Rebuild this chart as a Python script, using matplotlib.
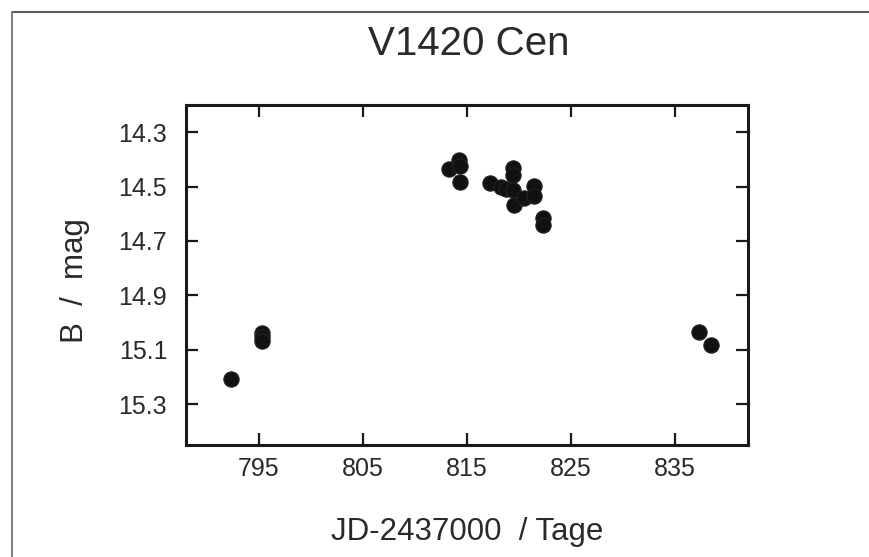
import matplotlib
matplotlib.use("Agg")
import matplotlib.pyplot as plt
from matplotlib.lines import Line2D

# Data
jd = [792.3, 795.26, 795.26, 795.26, 813.25, 814.27, 814.34, 814.34,
      817.21, 818.27, 818.73, 819.38, 819.38, 819.38, 819.54, 820.5,
      821.46, 821.46, 822.32, 822.32, 837.3, 838.4]
bmag = [15.206, 15.037, 15.052, 15.068, 14.434, 14.403, 14.425, 14.484,
        14.486, 14.501, 14.509, 14.431, 14.456, 14.511, 14.567, 14.542,
        14.499, 14.536, 14.616, 14.641, 15.036, 15.081]

xticks = [795, 805, 815, 825, 835]
yticks = [14.3, 14.5, 14.7, 14.9, 15.1, 15.3]
ytick_labels = ["14.3", "14.5", "14.7", "14.9", "15.1", "15.3"]

title = "V1420 Cen"
xlabel = "JD-2437000  / Tage"
ylabel = "B  /  mag"

plt.rcParams['font.family'] = ['Liberation Sans', 'DejaVu Sans']
txt_color = '#2a2a2a'

fig = plt.figure(figsize=(8.7, 5.57), dpi=100)
ax = fig.add_axes([186/870, 1-445/557, (748-186)/870, (445-105)/557])

ax.plot(jd, bmag, 'o', color='#111111', markersize=11, markeredgewidth=0.8,
        markeredgecolor='#222222', linestyle='none')

ax.set_xlim(788, 842)
ax.set_ylim(15.45, 14.2)
ax.set_xticks(xticks)
ax.set_xticklabels([str(t) for t in xticks])
ax.set_yticks(yticks)
ax.set_yticklabels(ytick_labels)

for s in ax.spines.values():
    s.set_linewidth(2.2)
    s.set_color('#1a1a1a')

ax.tick_params(axis='both', direction='in', length=8.5, width=1.6,
               color='#1a1a1a', top=True, right=True,
               labelsize=18, labelcolor=txt_color)
ax.tick_params(axis='x', pad=9)
ax.tick_params(axis='y', pad=13.5)

ax.set_xlabel(xlabel, fontsize=22.5, color=txt_color, va='center')
ax.xaxis.set_label_coords(0.5, -(532-445)/340)
ax.set_ylabel(ylabel, fontsize=22.5, color=txt_color, va='center')
ax.yaxis.set_label_coords(-(186-75)/562, 0.485)

fig.text(469/870, 1-55/557, title, fontsize=29, color=txt_color,
         ha='center', va='baseline')

# thin grey frame lines (top and left) as in the reference
fig.add_artist(Line2D([12/870, 1.0], [1-12/557, 1-12/557],
                      transform=fig.transFigure, color='#5a5a5a', linewidth=1.5))
fig.add_artist(Line2D([12/870, 12/870], [0.0, 1-12/557],
                      transform=fig.transFigure, color='#808080', linewidth=1.5))

fig.savefig("out.png", dpi=100)
